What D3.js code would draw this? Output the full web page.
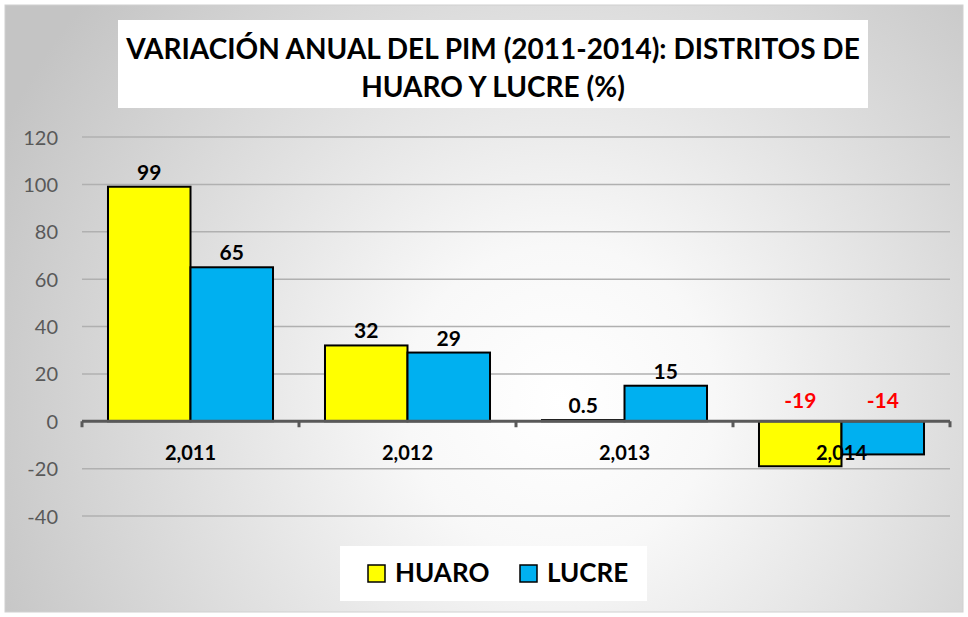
<!DOCTYPE html>
<html><head><meta charset="utf-8">
<script src="https://cdn.jsdelivr.net/npm/d3@7"></script>
<style>body{margin:0;background:#fff}svg{display:block}</style>
</head><body>
<script>
const categories = ["2,011", "2,012", "2,013", "2,014"];
const seriesNames = ["HUARO", "LUCRE"];
const huaro = [99, 32, 0.5, -19];
const lucre = [65, 29, 15, -14];
const huaroLabels = ["99", "32", "0.5", "-19"];
const lucreLabels = ["65", "29", "15", "-14"];
const yTicks = [-40, -20, 0, 20, 40, 60, 80, 100, 120];
const colors = ["#FFFF00", "#00B0F0"];

const W = 968, H = 617;
const svg = d3.select("body").append("svg").attr("width", W).attr("height", H);
const defs = svg.append("defs");
const grad = defs.append("radialGradient").attr("id", "bg")
  .attr("gradientUnits", "userSpaceOnUse")
  .attr("cx", 560).attr("cy", 400).attr("r", 620);
grad.append("stop").attr("offset", "0").attr("stop-color", "#ffffff");
grad.append("stop").attr("offset", "0.25").attr("stop-color", "#f8f8f8");
grad.append("stop").attr("offset", "1").attr("stop-color", "#c4c4c4");

svg.append("rect").attr("x", 5).attr("y", 5).attr("width", 958).attr("height", 607)
  .attr("fill", "url(#bg)").attr("stroke", "#d0d0d0").attr("stroke-width", 1);

const font = "Lato, 'Open Sans', sans-serif";

// title
svg.append("rect").attr("x", 118).attr("y", 20).attr("width", 750).attr("height", 88).attr("fill", "#fff");
const title = svg.append("text").attr("text-anchor", "middle").attr("font-family", font)
  .attr("font-weight", "bold").attr("font-size", 28).attr("fill", "#000");
title.append("tspan").attr("x", 493).attr("y", 59).text("VARIACIÓN ANUAL DEL PIM (2011-2014): DISTRITOS DE");
title.append("tspan").attr("x", 493).attr("y", 97).text("HUARO Y LUCRE (%)");

const x0 = 82, x1 = 950;
const y = d3.scaleLinear().domain([-40, 120]).range([516, 137]);
const x = d3.scaleBand().domain(categories).range([x0, x1]).paddingInner(0).paddingOuter(0);
const xs = d3.scaleBand().domain(seriesNames).range([0, x.bandwidth()]).paddingOuter(0.315).paddingInner(0);

// gridlines
svg.append("g").selectAll("line").data(yTicks.filter(d => d !== 0)).join("line")
  .attr("x1", x0).attr("x2", x1).attr("y1", d => y(d)).attr("y2", d => y(d))
  .attr("stroke", "#b0b0b0").attr("stroke-width", 1.5);

// y axis labels
const yAxis = d3.axisLeft(y).tickValues(yTicks).tickSize(0).tickPadding(0).tickFormat(d => String(d));
const ya = svg.append("g").attr("transform", "translate(58,0)").call(yAxis);
ya.select(".domain").remove();
ya.selectAll("text").attr("font-family", font).attr("font-size", 20).attr("fill", "#595959").attr("dy", "0.35em");

// bars
const data = categories.map((c, i) => ({c, vals: [huaro[i], lucre[i]], labs: [huaroLabels[i], lucreLabels[i]]}));
const groups = svg.append("g").selectAll("g").data(data).join("g")
  .attr("transform", d => `translate(${x(d.c)},0)`);
groups.selectAll("rect").data(d => d.vals.map((v, j) => ({v, s: seriesNames[j], j}))).join("rect")
  .attr("x", d => xs(d.s)).attr("width", xs.bandwidth())
  .attr("y", d => y(Math.max(0, d.v))).attr("height", d => Math.abs(y(d.v) - y(0)))
  .attr("fill", d => colors[d.j]).attr("stroke", "#000").attr("stroke-width", 2);

// x axis
const xAxis = d3.axisBottom(x).tickSize(0).tickPadding(0).tickFormat("");
const xa = svg.append("g").attr("transform", `translate(0,${y(0)})`).call(xAxis);
xa.select(".domain").remove();
xa.append("line").attr("x1", x0).attr("x2", x1).attr("y1", 0).attr("y2", 0).attr("stroke", "#595959").attr("stroke-width", 3);
xa.selectAll(".bt").data([x0, ...categories.map(c => x(c) + x.bandwidth())]).join("line")
  .attr("x1", d => d).attr("x2", d => d).attr("y1", 0).attr("y2", 6)
  .attr("stroke", "#595959").attr("stroke-width", 3);

// category labels
svg.append("g").selectAll("text").data(categories).join("text")
  .attr("x", d => x(d) + x.bandwidth() / 2).attr("y", 460)
  .attr("text-anchor", "middle").attr("font-family", font).attr("font-weight", "bold")
  .attr("font-size", 20).attr("fill", "#000").text(d => d);

// data labels
groups.selectAll("text").data(d => d.vals.map((v, j) => ({v, s: seriesNames[j], lab: d.labs[j]}))).join("text")
  .attr("x", d => xs(d.s) + xs.bandwidth() / 2)
  .attr("y", d => d.v >= 0 ? y(d.v) - 7 : y(0) - 13)
  .attr("text-anchor", "middle").attr("font-family", font).attr("font-weight", "bold")
  .attr("font-size", 21).attr("fill", d => d.v < 0 ? "#FF0000" : "#000").text(d => d.lab);

// legend
svg.append("rect").attr("x", 340).attr("y", 546).attr("width", 307).attr("height", 55).attr("fill", "#fff");
const leg = svg.append("g").selectAll("g").data(seriesNames).join("g")
  .attr("transform", (d, i) => `translate(${i === 0 ? 368 : 520},565)`);
leg.append("rect").attr("width", 17).attr("height", 17).attr("fill", (d, i) => colors[i]).attr("stroke", "#000").attr("stroke-width", 1.5);
leg.append("text").attr("x", 27).attr("y", 17).attr("font-family", font).attr("font-weight", "bold")
  .attr("font-size", 26).attr("fill", "#000").text(d => d);
</script>
</body></html>
